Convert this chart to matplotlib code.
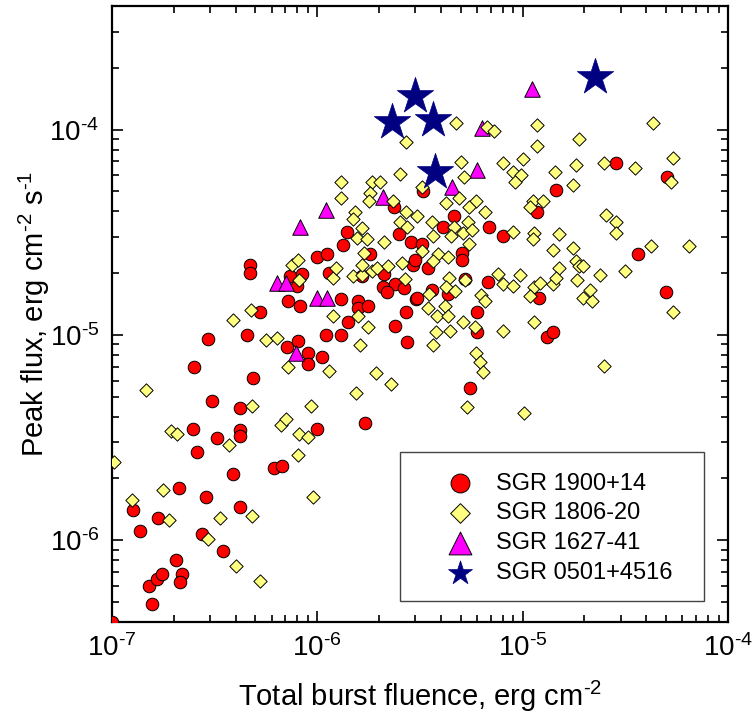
import matplotlib
matplotlib.use('Agg')
import matplotlib.pyplot as plt
from matplotlib.patches import Rectangle
from matplotlib.ticker import LogLocator, NullFormatter, FuncFormatter
import numpy as np

plt.rcParams['font.family'] = ['Liberation Sans', 'DejaVu Sans']
plt.rcParams['mathtext.default'] = 'regular'

HY = '\u2010'  # short hyphen, as in the original superscripts

# SGR 1900+14 (red circles): total fluence, peak flux
sgr1900_fluence = [
    1.0e-7, 1.57e-7, 1.51e-7, 1.66e-7, 1.75e-7, 2.19e-7, 2.14e-7, 2.05e-7, 3.47e-7, 2.74e-7,
    1.37e-7, 1.27e-7, 1.68e-7, 2.12e-7, 2.86e-7, 4.21e-7, 3.88e-7, 6.15e-7, 6.73e-7, 2.59e-7,
    3.25e-7, 4.21e-7, 4.21e-7, 2.48e-7, 9.95e-7, 1.70e-6, 3.07e-7, 4.21e-7, 4.86e-7, 2.51e-7,
    2.93e-7, 4.55e-7, 1.10e-6, 1.30e-6, 7.13e-7, 8.07e-7, 9.03e-7, 1.05e-6, 9.03e-7, 2.73e-6,
    1.41e-6, 2.38e-6, 2.70e-6, 5.26e-7, 7.2e-7, 8.25e-7, 1.30e-6, 1.57e-6, 1.57e-6, 1.76e-6,
    3.02e-6, 4.70e-7, 4.70e-7, 9.95e-7, 1.11e-6, 1.39e-6, 1.33e-6, 1.80e-6, 2.36e-6, 2.49e-6,
    2.85e-6, 3.23e-6, 7.36e-7, 8.43e-7, 7.98e-7, 1.14e-6, 1.65e-6, 2.11e-6, 2.92e-6, 2.98e-6,
    3.45e-6, 2.38e-6, 2.08e-6, 2.18e-6, 2.64e-6, 3.27e-6, 4.62e-6, 4.08e-6, 6.85e-6, 8.0e-6,
    5.04e-6, 5.04e-6, 1.17e-5, 2.86e-5, 5.07e-5, 1.46e-5, 3.63e-5, 5.23e-6, 6.77e-6, 4.97e-5,
    5.98e-6, 1.20e-5, 3.61e-6, 4.32e-6, 3.05e-6, 5.98e-6, 5.53e-6, 1.32e-5, 1.40e-5,
]
sgr1900_flux = [
    4.0e-7, 4.89e-7, 5.99e-7, 6.48e-7, 6.85e-7, 6.85e-7, 6.25e-7, 8.0e-7, 8.85e-7, 1.07e-6,
    1.11e-6, 1.40e-6, 1.29e-6, 1.79e-6, 1.62e-6, 1.46e-6, 2.10e-6, 2.24e-6, 2.29e-6, 2.68e-6,
    3.14e-6, 3.43e-6, 3.21e-6, 3.50e-6, 3.50e-6, 3.72e-6, 4.76e-6, 4.39e-6, 6.15e-6, 6.95e-6,
    9.6e-6, 9.95e-6, 9.95e-6, 9.95e-6, 8.7e-6, 9.3e-6, 8.13e-6, 7.78e-6, 7.2e-6, 9.2e-6,
    1.15e-5, 1.10e-5, 1.29e-5, 1.29e-5, 1.47e-5, 1.39e-5, 1.49e-5, 1.46e-5, 1.35e-5, 1.39e-5,
    1.49e-5, 2.20e-5, 2.01e-5, 2.41e-5, 2.49e-5, 3.19e-5, 2.73e-5, 2.49e-5, 4.22e-5, 3.09e-5,
    2.85e-5, 2.76e-5, 1.93e-5, 1.97e-5, 1.74e-5, 2.01e-5, 1.93e-5, 1.97e-5, 2.20e-5, 2.33e-5,
    2.13e-5, 1.78e-5, 1.72e-5, 1.61e-5, 1.70e-5, 5.0e-5, 3.78e-5, 3.34e-5, 3.37e-5, 3.05e-5,
    2.52e-5, 2.31e-5, 3.95e-5, 6.9e-5, 5.85e-5, 5.1e-5, 2.49e-5, 1.88e-5, 1.82e-5, 1.61e-5,
    1.30e-5, 1.51e-5, 1.65e-5, 1.59e-5, 1.52e-5, 1.03e-5, 5.5e-6, 9.8e-6, 1.03e-5,
]

# SGR 1806-20 (yellow diamonds)
sgr1806_fluence = [
    1.02e-7, 1.25e-7, 1.46e-7, 1.77e-7, 1.89e-7, 1.94e-7, 2.07e-7, 2.93e-7, 3.35e-7, 3.71e-7,
    4.01e-7, 3.88e-7, 4.76e-7, 4.81e-7, 4.81e-7, 5.26e-7, 5.62e-7, 6.35e-7, 6.66e-7, 7.04e-7,
    7.2e-7, 8.15e-7, 8.07e-7, 9.03e-7, 9.33e-7, 9.53e-7, 1.14e-6, 1.19e-6, 1.57e-6, 1.61e-6,
    1.76e-6, 1.54e-6, 1.93e-6, 2.28e-6, 3.45e-6, 3.65e-6, 7.53e-7, 8.07e-7, 8.15e-7, 1.19e-6,
    1.24e-6, 1.49e-6, 1.65e-6, 1.84e-6, 2.70e-6, 2.52e-6, 1.30e-6, 1.30e-6, 1.84e-6, 2.01e-6,
    1.80e-6, 1.78e-6, 2.33e-6, 2.70e-6, 3.05e-6, 1.52e-6, 1.49e-6, 2.52e-6, 2.73e-6, 1.65e-6,
    1.56e-6, 1.74e-6, 2.11e-6, 3.23e-6, 1.68e-6, 1.65e-6, 1.95e-6, 2.20e-6, 2.58e-6, 2.67e-6,
    3.49e-6, 3.61e-6, 4.72e-6, 6.70e-6, 7.24e-6, 1.18e-5, 1.89e-5, 4.34e-5, 1.17e-5, 4.99e-6,
    8.07e-6, 1.01e-5, 1.83e-5, 2.48e-5, 3.51e-5, 5.43e-5, 5.26e-5, 5.17e-6, 8.94e-6, 9.78e-6,
    9.14e-6, 1.43e-5, 1.75e-5, 4.22e-6, 4.88e-6, 5.9e-6, 5.46e-6, 6.53e-6, 1.12e-5, 1.25e-5,
    1.09e-5, 4.62e-6, 5.4e-6, 5.12e-6, 4.46e-6, 5.65e-6, 3.68e-6, 5.46e-6, 8.94e-6, 1.13e-5,
    1.12e-5, 1.50e-5, 1.40e-5, 1.75e-5, 2.56e-5, 2.86e-5, 2.86e-5, 4.21e-5, 6.43e-5, 3.86e-6,
    4.32e-6, 3.68e-6, 4.36e-6, 4.22e-6, 4.67e-6, 6.3e-6, 6.53e-6, 7.6e-6, 8.0e-6, 8.94e-6,
    9.7e-6, 1.13e-5, 1.22e-5, 1.09e-5, 1.40e-5, 1.51e-5, 1.46e-5, 1.81e-5, 1.89e-5, 1.96e-5,
    1.85e-5, 2.37e-5, 3.14e-5, 1.96e-5, 2.17e-5, 2.14e-5, 4.17e-6, 3.82e-6, 4.32e-6, 5.12e-6,
    5.85e-6, 8.07e-6, 1.13e-5, 5.43e-5, 3.78e-6, 4.41e-6, 5.9e-6, 6.2e-6, 6.4e-6, 5.34e-6,
    1.02e-5, 2.48e-5, 5.23e-6, 3.23e-6,
]
sgr1806_flux = [
    2.40e-6, 1.58e-6, 5.38e-6, 1.75e-6, 1.25e-6, 3.39e-6, 3.28e-6, 1.01e-6, 1.29e-6, 2.90e-6,
    7.5e-7, 1.18e-5, 1.32e-5, 4.49e-6, 1.31e-6, 6.3e-7, 9.43e-6, 9.7e-6, 3.63e-6, 3.88e-6,
    6.95e-6, 3.31e-6, 2.59e-6, 3.17e-6, 4.49e-6, 1.62e-6, 6.66e-6, 1.24e-5, 1.23e-5, 8.9e-6,
    1.09e-5, 5.2e-6, 6.5e-6, 5.75e-6, 1.35e-5, 8.9e-6, 2.20e-5, 2.33e-5, 1.86e-5, 1.90e-5,
    2.13e-5, 1.93e-5, 1.95e-5, 2.04e-5, 8.7e-5, 6.1e-5, 5.53e-5, 4.62e-5, 5.53e-5, 5.53e-5,
    4.89e-5, 4.47e-5, 4.47e-5, 3.99e-5, 3.78e-5, 3.95e-5, 3.65e-5, 3.53e-5, 3.34e-5, 3.30e-5,
    2.98e-5, 2.92e-5, 2.82e-5, 2.55e-5, 2.52e-5, 2.20e-5, 2.13e-5, 2.16e-5, 2.25e-5, 1.88e-5,
    1.59e-5, 3.56e-5, 1.08e-4, 1.03e-4, 9.8e-5, 1.05e-4, 9.0e-5, 1.08e-4, 8.3e-5, 6.98e-5,
    6.85e-5, 7.2e-5, 6.75e-5, 6.9e-5, 6.48e-5, 7.3e-5, 5.53e-5, 5.85e-5, 6.2e-5, 5.99e-5,
    5.53e-5, 6.2e-5, 5.35e-5, 4.41e-5, 4.62e-5, 4.51e-5, 4.22e-5, 3.99e-5, 4.51e-5, 4.47e-5,
    4.22e-5, 3.37e-5, 3.56e-5, 3.15e-5, 3.02e-5, 3.26e-5, 3.02e-5, 2.76e-5, 3.19e-5, 3.15e-5,
    2.92e-5, 3.09e-5, 2.58e-5, 2.66e-5, 3.82e-5, 3.53e-5, 3.15e-5, 2.71e-5, 2.71e-5, 2.47e-5,
    2.41e-5, 2.28e-5, 1.90e-5, 1.72e-5, 1.63e-5, 1.57e-5, 1.46e-5, 1.97e-5, 1.78e-5, 1.74e-5,
    1.95e-5, 1.72e-5, 1.80e-5, 1.54e-5, 1.78e-5, 2.11e-5, 1.90e-5, 2.28e-5, 2.16e-5, 2.16e-5,
    1.86e-5, 1.95e-5, 2.06e-5, 1.52e-5, 1.46e-5, 1.65e-5, 1.39e-5, 1.23e-5, 1.24e-5, 1.15e-5,
    1.09e-5, 1.04e-5, 1.15e-5, 1.29e-5, 1.03e-5, 1.05e-5, 8.2e-6, 7.37e-6, 6.59e-6, 4.44e-6,
    4.16e-6, 7.03e-6, 1.86e-5, 5.24e-5,
]

# SGR 1627-41 (magenta triangles)
sgr1627_fluence = [1.11e-5, 6.31e-6, 5.97e-6, 4.51e-6, 2.08e-6, 1.10e-6, 8.22e-7, 6.35e-7,
                   7.03e-7, 9.95e-7, 1.11e-6, 7.86e-7]
sgr1627_flux = [1.57e-4, 1.02e-4, 6.38e-5, 5.28e-5, 4.72e-5, 4.08e-5, 3.34e-5, 1.80e-5,
                1.80e-5, 1.52e-5, 1.52e-5, 8.13e-6]

# SGR 0501+4516 (navy stars)
sgr0501_fluence = [2.3e-6, 2.98e-6, 3.68e-6, 3.74e-6, 2.24e-5]
sgr0501_flux = [1.09e-4, 1.45e-4, 1.11e-4, 6.2e-5, 1.81e-4]

fig = plt.figure(figsize=(7.53, 7.21), dpi=100)
ax = fig.add_axes([0.1487, 0.1373, 0.818, 0.8544])

edge = dict(edgecolors='black', linewidths=0.7)
ax.scatter(sgr1900_fluence, sgr1900_flux, s=82, marker='o', c='#ff0000',
           label='SGR 1900+14', zorder=3, **edge)
ax.scatter(sgr1806_fluence, sgr1806_flux, s=46, marker='D', c='#ffff80',
           label='SGR 1806-20', zorder=5, **edge)
ax.scatter(sgr1627_fluence, sgr1627_flux, s=125, marker='^', c='#ff00ff',
           label='SGR 1627-41', zorder=4, **edge)
ax.scatter(sgr0501_fluence, sgr0501_flux, s=760, marker='*', c='#000080',
           edgecolors='#000080', linewidths=0.5, label='SGR 0501+4516', zorder=6)

ax.set_xscale('log')
ax.set_yscale('log')
ax.set_xlim(1e-7, 1e-4)
ax.set_ylim(4e-7, 4e-4)


def pow10(v, pos):
    e = int(round(np.log10(v)))
    return '$10^{%s%d}$' % (HY if e < 0 else '', abs(e))


for axis in (ax.xaxis, ax.yaxis):
    axis.set_major_locator(LogLocator(base=10, numticks=10))
    axis.set_major_formatter(FuncFormatter(pow10))
    axis.set_minor_locator(LogLocator(base=10, subs=np.arange(2, 10), numticks=20))
    axis.set_minor_formatter(NullFormatter())

ax.tick_params(which='both', direction='in', top=True, right=True, width=1.2)
ax.tick_params(which='major', length=8, labelsize=20, pad=9)
ax.tick_params(which='minor', length=5)
for sp in ax.spines.values():
    sp.set_linewidth(1.6)

ax.set_xlabel('Total burst fluence, erg cm$^{%s2}$' % HY, fontsize=21, labelpad=12)
ax.set_ylabel('Peak flux, erg cm$^{%s2}$ s$^{%s1}$' % (HY, HY), fontsize=21, labelpad=-2)

# legend box drawn separately so that its padding matches the original
ax.add_patch(Rectangle((0.4675, 0.034), 0.4935, 0.242, transform=ax.transAxes,
                       facecolor='white', edgecolor='#444444', linewidth=1.0, zorder=7))
leg = ax.legend(loc='center', bbox_to_anchor=(0.706, 0.152), fontsize=17,
                frameon=False, labelspacing=0.33, handlelength=3.3,
                handletextpad=-0.1, borderaxespad=0)
leg.set_zorder(8)
for h, s in zip(leg.legend_handles, [185, 100, 270, 330]):
    h.set_sizes([s])

fig.savefig('out.png', dpi=100)
